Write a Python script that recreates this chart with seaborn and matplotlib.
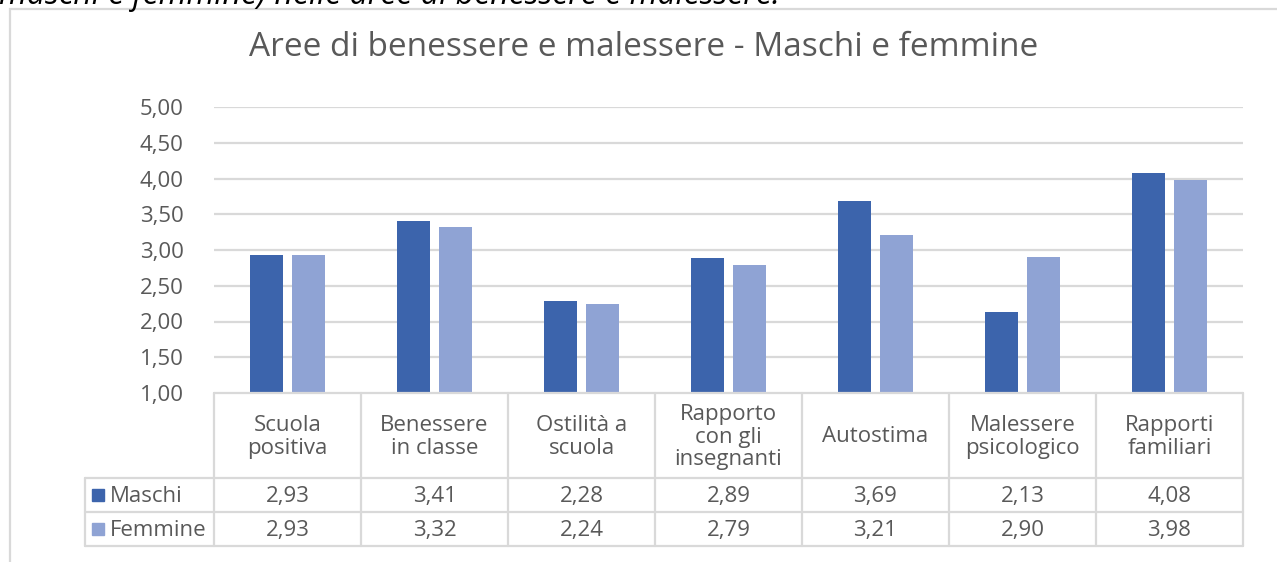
import matplotlib
matplotlib.use("Agg")
import matplotlib.pyplot as plt
import matplotlib.transforms as mtransforms
from matplotlib.patches import Rectangle
from matplotlib.lines import Line2D
import seaborn as sns
import pandas as pd

categories = ["Scuola\npositiva", "Benessere\nin classe", "Ostilità a\nscuola",
              "Rapporto\ncon gli\ninsegnanti", "Autostima", "Malessere\npsicologico",
              "Rapporti\nfamiliari"]
series_names = ["Maschi", "Femmine"]
maschi = [2.93, 3.41, 2.28, 2.89, 3.69, 2.13, 4.08]
femmine = [2.93, 3.32, 2.24, 2.79, 3.21, 2.90, 3.98]
yticks = [1.0, 1.5, 2.0, 2.5, 3.0, 3.5, 4.0, 4.5, 5.0]
title = "Aree di benessere e malessere - Maschi e femmine"
caption = "maschi e femmine) nelle aree di benessere e malessere."

colors = {"Maschi": "#3C64AC", "Femmine": "#8FA3D4"}
TXT = "#595959"
GRID = "#D9D9D9"
FONT = ["Open Sans", "DejaVu Sans"]
FS = 16

sns.set_theme(style="white")
plt.rcParams["font.family"] = FONT

df = pd.DataFrame({
    "cat": categories * 2,
    "serie": [series_names[0]] * len(categories) + [series_names[1]] * len(categories),
    "val": maschi + femmine,
})

W, H = 1277, 562
fig = plt.figure(figsize=(W / 100, H / 100), dpi=100)
ax_l, ax_r, ax_t, ax_b = 214, 1243, 107, 393
ax = fig.add_axes([ax_l / W, 1 - ax_b / H, (ax_r - ax_l) / W, (ax_b - ax_t) / H])

sns.barplot(data=df, x="cat", y="val", hue="serie", palette=colors,
            width=0.57, gap=0.21, ax=ax, legend=False, edgecolor="none",
            saturation=1)
ax.set_ylim(1.0, 5.0)
ax.set_xlim(-0.5, len(categories) - 0.5)
ax.set_yticks(yticks)
ax.set_yticklabels([f"{v:.2f}".replace(".", ",") for v in yticks], color=TXT, fontsize=FS)
ax.tick_params(axis="y", length=0, pad=22)
ax.set_xticks([])
ax.set_xlabel("")
ax.set_ylabel("")
for s in ax.spines.values():
    s.set_visible(False)
for v in yticks[1:]:
    ax.axhline(v, color=GRID, lw=1.6, zorder=0)
ax.set_axisbelow(True)

# table
bt = mtransforms.blended_transform_factory(ax.transData, ax.transAxes)
hpx = ax_b - ax_t
def yfrac(py):
    return (ax_b - py) / hpx
y0 = 0.0
y1 = yfrac(478)
y2 = yfrac(512)
y3 = yfrac(546)
dy = 1.5 / hpx  # nudge text slightly down
xleft = (85 - ax_l) / (ax_r - ax_l)
n = len(categories)
lw = 1.6
for i in range(n + 1):
    ax.add_line(Line2D([i - 0.5, i - 0.5], [y0, y3], transform=bt, color=GRID, lw=lw, clip_on=False))
ax.add_line(Line2D([-0.5, n - 0.5], [y0, y0], transform=bt, color=GRID, lw=lw, clip_on=False))
for yy in (y1, y2, y3):
    ax.add_line(Line2D([xleft, 1], [yy, yy], transform=ax.transAxes, color=GRID, lw=lw, clip_on=False))
ax.add_line(Line2D([xleft, xleft], [y1, y3], transform=ax.transAxes, color=GRID, lw=lw, clip_on=False))

for i, c in enumerate(categories):
    ax.text(i, (y0 + y1) / 2 - dy, c, transform=bt, ha="center", va="center", color=TXT,
            fontsize=FS, linespacing=1.08)
    ax.text(i, (y1 + y2) / 2 - dy, f"{maschi[i]:.2f}".replace(".", ","), transform=bt,
            ha="center", va="center", color=TXT, fontsize=FS)
    ax.text(i, (y2 + y3) / 2 - dy, f"{femmine[i]:.2f}".replace(".", ","), transform=bt,
            ha="center", va="center", color=TXT, fontsize=FS)

# legend keys in left column
sq = 12
for name, (ya, yb) in zip(series_names, [(y1, y2), (y2, y3)]):
    yc = (ya + yb) / 2
    xk = (92 - ax_l) / (ax_r - ax_l)
    wk = sq / (ax_r - ax_l)
    hk = sq / hpx
    ax.add_patch(Rectangle((xk, yc - hk / 2), wk, hk, transform=ax.transAxes,
                           color=colors[name], clip_on=False))
    ax.text((110 - ax_l) / (ax_r - ax_l), yc - dy, name, transform=ax.transAxes,
            ha="left", va="center", color=TXT, fontsize=FS)

# title
fig.text(644 / W, 1 - 48 / H, title, ha="center", va="center", color=TXT, fontsize=24)

# chart border
fig.add_artist(Rectangle((10 / W, -0.2), 1.2, 1.2 - 9 / H, transform=fig.transFigure,
                         fill=False, edgecolor=GRID, lw=1.6))

# cut-off caption at the top
fig.text(-1 / W, 1 - 4 / H, caption, ha="left", va="baseline", color="#000000",
         fontsize=23, style="italic")

fig.savefig("out.png", dpi=100, facecolor="white")
